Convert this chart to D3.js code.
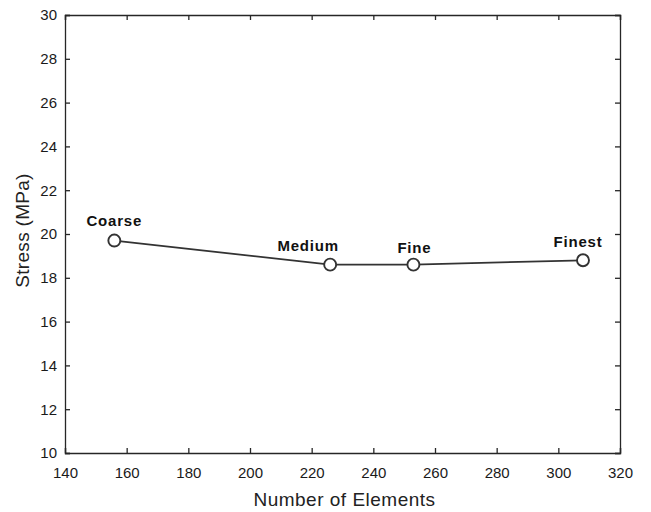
<!DOCTYPE html>
<html>
<head>
<meta charset="utf-8">
<script src="https://cdn.jsdelivr.net/npm/d3@7"></script>
<style>
    body { margin: 0; background: #fff; }
    text { font-family: "Liberation Sans", Arial, sans-serif; }
</style>
</head>
<body>
<div id="chart-ctn"></div>
<script>
// Data
let meshNames = ["Coarse", "Medium", "Fine", "Finest"];
let elementCounts = [156, 226, 253, 308];
let stressValues = [19.7, 18.6, 18.6, 18.8];
let xTicks = [140, 160, 180, 200, 220, 240, 260, 280, 300, 320];
let yTicks = [10, 12, 14, 16, 18, 20, 22, 24, 26, 28, 30];
// label offsets (px) relative to each marker
let labelDx = [0, -22, 1, -5];
let labelDy = [-15, -13.5, -12, -13.5];

let margin = { top: 15, right: 31, bottom: 59, left: 65 };
let width = 651 - margin.left - margin.right;
let height = 512 - margin.top - margin.bottom;
let axisColor = "#262626";

let svg = d3.select("#chart-ctn")
    .append("svg")
    .attr("width", 651)
    .attr("height", 512)
    .append("g")
    .attr("transform", `translate(${margin.left}, ${margin.top})`);

let x = d3.scaleLinear().domain([140, 320]).range([0, width]);
let y = d3.scaleLinear().domain([10, 30]).range([height, 0]);

// inward ticks on all four sides, like MATLAB
let xAxis = d3.axisBottom(x).tickValues(xTicks).tickSize(-5).tickPadding(14);
let yAxis = d3.axisLeft(y).tickValues(yTicks).tickSize(-5).tickPadding(8);
let xTop = d3.axisTop(x).tickValues(xTicks).tickSize(-5).tickFormat("");
let yRight = d3.axisRight(y).tickValues(yTicks).tickSize(-5).tickFormat("");

function styleAxis(g) {
    g.select(".domain").attr("stroke", axisColor).attr("stroke-width", 1.3);
    g.selectAll(".tick line").attr("stroke", axisColor).attr("stroke-width", 1.3);
    g.selectAll(".tick text")
        .attr("fill", "#1a1a1a")
        .style("font-size", "15px")
        .style("font-family", "'Liberation Sans', Arial, sans-serif");
}

svg.append("g").attr("transform", "translate(0," + height + ")").call(xAxis).call(styleAxis);
svg.append("g").call(yAxis).call(styleAxis);
svg.append("g").call(xTop).call(styleAxis);
svg.append("g").attr("transform", "translate(" + width + ",0)").call(yRight).call(styleAxis);

let points = meshNames.map((name, i) => ({
    name: name,
    n: elementCounts[i],
    s: stressValues[i],
    dx: labelDx[i],
    dy: labelDy[i],
}));

svg.append("path")
    .datum(points)
    .attr("fill", "none")
    .attr("stroke", "#333")
    .attr("stroke-width", 1.8)
    .attr("d", d3.line().x((d) => x(d.n)).y((d) => y(d.s)));

svg.selectAll(".pt")
    .data(points)
    .enter()
    .append("circle")
    .attr("class", "pt")
    .attr("cx", (d) => x(d.n))
    .attr("cy", (d) => y(d.s))
    .attr("r", 6)
    .attr("fill", "#fff")
    .attr("stroke", "#333")
    .attr("stroke-width", 1.9);

svg.selectAll(".lbl")
    .data(points)
    .enter()
    .append("text")
    .attr("class", "lbl")
    .attr("x", (d) => x(d.n) + d.dx)
    .attr("y", (d) => y(d.s) + d.dy)
    .attr("text-anchor", "middle")
    .style("font-size", "15px")
    .style("font-weight", "bold")
    .style("letter-spacing", "0.8px")
    .attr("fill", "#111")
    .text((d) => d.name);

// axis titles
svg.append("text")
    .attr("x", width / 2 + 2)
    .attr("y", height + 53)
    .attr("text-anchor", "middle")
    .style("font-size", "19px")
    .style("letter-spacing", "0.5px")
    .attr("fill", "#222")
    .text("Number of Elements");

svg.append("text")
    .attr("transform", "rotate(-90)")
    .attr("x", -height / 2 + 3.5)
    .attr("y", -margin.left + 29)
    .attr("text-anchor", "middle")
    .style("font-size", "19px")
    .style("letter-spacing", "0.3px")
    .attr("fill", "#222")
    .text("Stress (MPa)");
</script>
</body>
</html>
